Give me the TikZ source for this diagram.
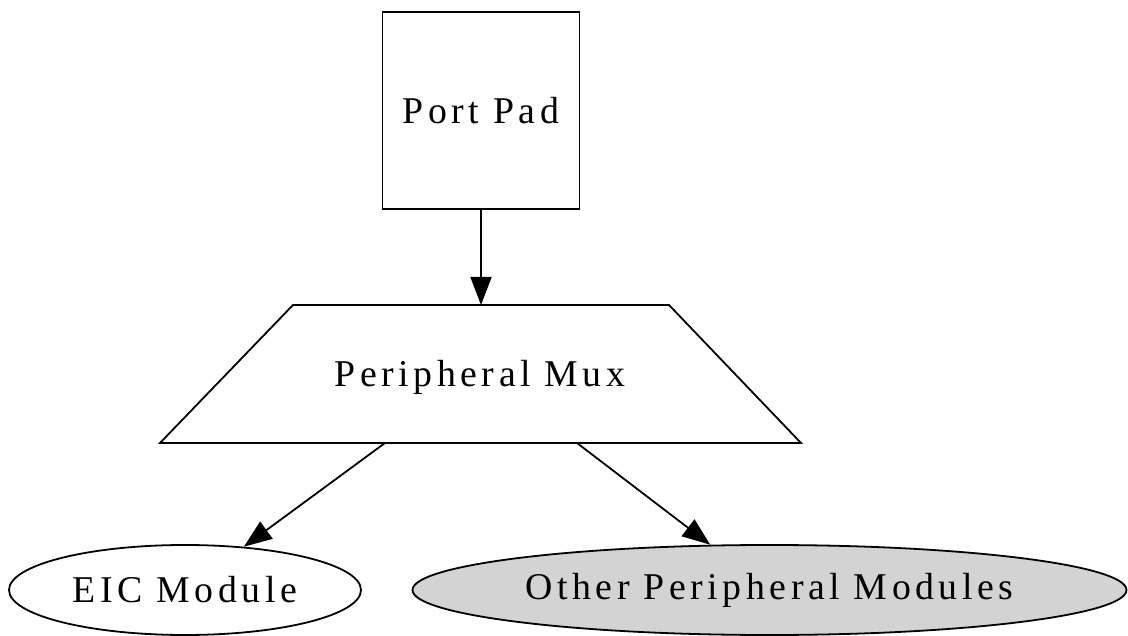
\documentclass[tikz,border=0pt]{standalone}
\usepackage{fontspec}
\usetikzlibrary{shapes.geometric,arrows.meta}
\newfontfamily\labfont[LetterSpace=12]{Liberation Serif}
\tikzset{
  lab/.style={font=\labfont\fontsize{37.8}{42}\selectfont, inner sep=0pt},
  outline/.style={draw, line width=1.8pt},
  boxnode/.style={lab, outline, rectangle, minimum width=197pt, minimum height=197pt},
  ellnode/.style={lab, outline, ellipse, minimum height=90pt},
  arr/.style={line width=1.8pt, -{Triangle[length=28pt,width=21pt]}},
}
\begin{document}
\begin{tikzpicture}[x=1pt,y=-1pt]
  \useasboundingbox (0,0) rectangle (1128,636);
  % top box
  \node[boxnode] (pad) at (481,110.5) {Port Pad};
  % multiplexer trapezoid
  \coordinate (muxtl) at (293,305);
  \coordinate (muxtr) at (669,305);
  \coordinate (muxbr) at (801,443);
  \coordinate (muxbl) at (160,443);
  \draw[outline, line join=miter] (muxtl) -- (muxtr) -- (muxbr) -- (muxbl) -- cycle;
  \node[lab] (mux) at (480,377) {Peripheral Mux};
  \coordinate (muxin) at (481,305);
  \coordinate (muxoutl) at (385,443);
  \coordinate (muxoutr) at (577,443);
  % modules
  \node[ellnode, minimum width=352pt] (eic) at (185,590) {EIC Module};
  \node[ellnode, minimum width=714pt, fill={rgb,255:red,211;green,211;blue,211}] (other) at (769.5,590) {Other Peripheral Modules};
  % connectors
  \draw[arr] (pad) -- (muxin);
  \draw[arr] (muxoutl) -- (eic);
  \draw[arr] (muxoutr) -- (other);
\end{tikzpicture}
\end{document}
